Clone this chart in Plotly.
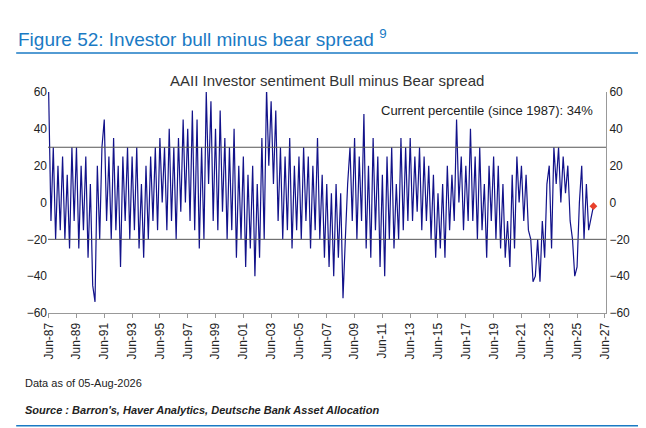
import pandas as pd
import plotly.graph_objects as go

values = [
60,-10,30,-20,20,-15, 25,-20,15,-25,30,-10, 30,-25,20,-15,25,-30, 10,-45,-54,20,-20,30,
45,-10,25,-20,35,-15, 20,-35,25,-10,30,-20, 25,-15,30,-25,10,-30, 20,-20,25,-10,30,-15,
35,0,30,-15,40,-10, 30,-20,35,-5,45,0, 40,-10,50,-15,45,-25, 30,-20,60,10,55,-10,
40,-15,50,-5,35,-20, 30,-15,40,-30,20,-20, 25,-35,15,-25,20,-40, 10,-30,35,-20,62,20,
55,10,50,-10,30,-20, 25,-15,35,-25,20,-15, 25,-20,30,-10,25,-25, 20,-15,35,-20,15,-30,
10,-35,5,-40,10,-30, 5,-52,-20,10,30,-10, 35,-20,25,-10,48,-25, 20,-30,35,-15,25,-35,
15,-40,25,-20,30,-25, 10,-20,35,-15,30,-10, 35,-10,25,-5,30,-15, 25,-10,20,-20,15,-30,
5,-25,10,-30,20,-15, 15,-10,45,0,25,-15, 20,-10,40,-10,25,-20, 30,-15,10,-30,20,-10,
25,-20,20,-25,10,-30, -10,-35,15,-25,25,0, 20,-10,15,-15,-20,-43, -40,-20,-43,-10,-30,10,
20,-25,30,10,30,0, 25,5,20,-10,-20,-40, -35,0,20,-20,10,-15]
dates = list(pd.date_range("1987-06-01", periods=len(values), freq="2MS"))
last_date = pd.Timestamp("2026-08-05")
last_value = -2
dates.append(last_date); values.append(last_value)
tick_dates = pd.date_range("1987-06-01", "2027-06-01", freq="24MS")
tick_labels = [d.strftime("Jun-%y") for d in tick_dates]

fig = go.Figure()
fig.add_trace(go.Scatter(x=dates, y=values, mode="lines", line=dict(color="#12128a", width=1.2)))
fig.add_trace(go.Scatter(x=[last_date], y=[last_value], mode="markers",
                         marker=dict(symbol="diamond", color="#e8412c", size=6)))
fig.add_trace(go.Scatter(x=[dates[0]], y=[0], yaxis="y2", mode="markers", marker=dict(opacity=0)))
for v in [30, -20]:
    fig.add_hline(y=v, line=dict(color="#555555", width=1))
ax = dict(range=[-60, 60], dtick=20, showgrid=False, zeroline=False, ticks="",
          tickfont=dict(size=12, color="#222"), fixedrange=True)
fig.update_layout(
    width=646, height=428, showlegend=False, plot_bgcolor="white", paper_bgcolor="white",
    margin=dict(l=40, r=48, t=84, b=123),
    font=dict(family="Liberation Sans, Arial", color="#222"),
    xaxis=dict(range=[pd.Timestamp("1987-05-15"), pd.Timestamp("2027-07-01")],
               tickvals=list(tick_dates), ticktext=tick_labels, tickangle=-90,
               showgrid=False, showline=True, linecolor="#999", ticks="outside",
               ticklen=4, tickcolor="#999", tickfont=dict(size=12, color="#222")),
    yaxis=dict(**ax, showline=False),
    yaxis2=dict(**ax, overlaying="y", side="right", showline=True, linecolor="#999"),
    annotations=[
        dict(text="Figure 52: Investor bull minus bear spread <sup>9</sup>", x=-0.057, y=1.244,
             xref="paper", yref="paper", showarrow=False, xanchor="left", yanchor="middle",
             font=dict(size=19, color="#1a7ac4")),
        dict(text="AAII Investor sentiment Bull minus Bear spread", x=0.5, y=1.054,
             xref="paper", yref="paper", showarrow=False, yanchor="middle",
             font=dict(size=15, color="#333")),
        dict(text="Current percentile (since 1987): 34%", x=0.98, y=0.96, xref="paper",
             yref="paper", showarrow=False, xanchor="right", font=dict(size=13, color="#222")),
        dict(text="Data as of 05-Aug-2026", x=-0.045, y=-0.317, xref="paper", yref="paper",
             showarrow=False, xanchor="left", yanchor="middle", font=dict(size=11, color="#222")),
        dict(text="<b><i>Source : Barron's, Haver Analytics, Deutsche Bank Asset Allocation</i></b>",
             x=-0.045, y=-0.44, xref="paper", yref="paper", showarrow=False, xanchor="left",
             yanchor="middle", font=dict(size=11, color="#222")),
    ],
)
fig.update_layout(shapes=list(fig.layout.shapes) + [
    dict(type="line", xref="paper", yref="paper", x0=-0.057, x1=1.068, y0=1.176, y1=1.176,
         line=dict(color="#1a7ac4", width=1.5)),
    dict(type="line", xref="paper", yref="paper", x0=-0.057, x1=1.068, y0=-0.51, y1=-0.51,
         line=dict(color="#1a7ac4", width=1.5)),
    dict(type="line", xref="paper", yref="paper", x0=1.068, x1=1.068, y0=-0.51, y1=-0.40,
         line=dict(color="#1a7ac4", width=1.5)),
])
fig.write_html("out.html")
